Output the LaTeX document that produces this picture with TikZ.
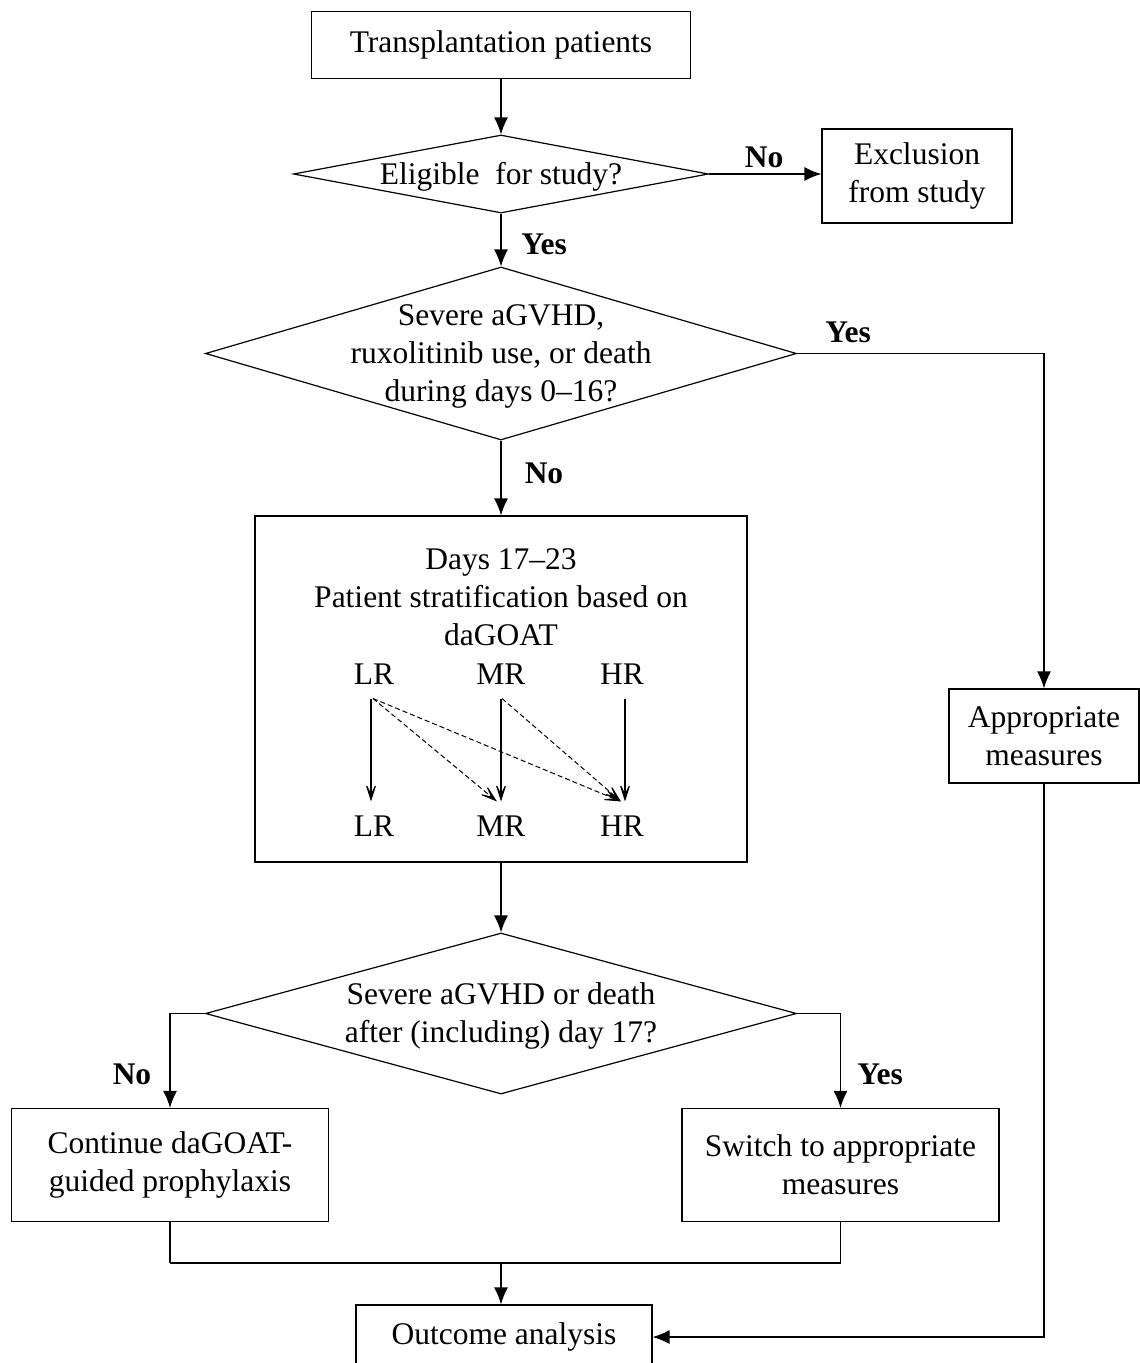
\documentclass[tikz,border=0pt]{standalone}
\usepackage{fontspec}
\setmainfont{Liberation Serif}
\usetikzlibrary{shapes.geometric,arrows.meta}
\begin{document}
\begin{tikzpicture}[x=1pt,y=-1pt,
  txt/.style={font=\fontsize{31.5}{38}\selectfont, align=center, inner sep=0pt},
  lbl/.style={font=\fontsize{31.5}{38}\selectfont\bfseries, inner sep=0pt},
  box/.style={draw, line width=1.2pt, inner sep=0pt, align=center, font=\fontsize{31.5}{38}\selectfont},
  dia/.style={draw, diamond, line width=1.2pt, inner sep=0pt},
  arr/.style={line width=1.3pt, -{Latex[length=17pt,width=14pt]}},
  ln/.style={line width=1.3pt},
  rk/.style={font=\fontsize{31.5}{38}\selectfont, inner sep=14pt},
  sarr/.style={line width=1.1pt, -{Stealth[length=22pt,width=14pt,inset=14pt]}},
  darr/.style={line width=1pt, dash pattern=on 5pt off 3pt, -{Stealth[length=22pt,width=14pt,inset=14pt]}}
]
\useasboundingbox (0,0) rectangle (1140,1363);

% boxes
\node[box, minimum width=379, minimum height=67] (tp) at (501,45) {Transplantation patients};
\node[dia, minimum width=415, minimum height=78] (d1) at (501,174) {};
\node[txt] (d1t) at (501,177) {Eligible\ \ for study?};
\node[box, minimum width=190, minimum height=94] (ex) at (917,176) {Exclusion\\from study};
\node[dia, minimum width=591, minimum height=173] (d2) at (501,353.5) {};
\node[txt] (d2t) at (501,356) {Severe aGVHD,\\ruxolitinib use, or death\\during days 0--16?};
\node[box, minimum width=190, minimum height=94] (ap) at (1044,736) {Appropriate\\measures};
\node[box, minimum width=492, minimum height=346] (st) at (501,689) {};
\node[txt] (stt) at (501,597) {Days 17--23\\Patient stratification\ based on\\daGOAT};
\node[rk] (lr1) at (374,674) {LR};
\node[rk] (mr1) at (501,674) {MR};
\node[rk] (hr1) at (622,674) {HR};
\node[rk] (lr2) at (374,826) {LR};
\node[rk] (mr2) at (501,826) {MR};
\node[rk] (hr2) at (622,826) {HR};
\node[dia, minimum width=591, minimum height=161] (d3) at (501,1013.5) {};
\node[txt] (d3t) at (501,1016) {Severe aGVHD or death\\after (including)\ day 17?};
\node[box, minimum width=317, minimum height=113] (co) at (170,1165) {Continue daGOAT-\\guided prophylaxis};
\node[box, minimum width=317, minimum height=113] (sw) at (840.5,1165) {Switch to appropriate\\measures};
\node[box, minimum width=296, minimum height=64] (oa) at (504,1337) {Outcome analysis};

% connectors
\draw[arr] (tp.south) -- (d1.north);
\draw[arr] (d1.east) -- (ex.west |- d1.east);
\draw[arr] (d1.south) -- (d2.north);
\draw[arr] (d2.east) -| (ap.north);
\draw[arr] (d2.south) -- (st.north);
\draw[arr] (st.south) -- (d3.north);
\draw[arr] (d3.west) -| (co.north);
\draw[arr] (d3.east) -| (sw.north);
\coordinate (mg) at (501,1263);
\draw[ln] (co.south) -- (co.south |- mg);
\draw[ln] (sw.south) -- (sw.south |- mg);
\draw[line width=2.4pt] (co.south |- mg) -- (sw.south |- mg);
\draw[arr] (mg) -- (mg |- oa.north);
\draw[arr] (ap.south) |- (oa.east);

% inner arrows
\draw[sarr] ([xshift=-3pt]lr1.south) -- ([xshift=-3pt]lr2.north);
\draw[sarr] (mr1.south) -- (mr2.north);
\draw[sarr] ([xshift=3pt]hr1.south) -- ([xshift=3pt]hr2.north);
\draw[darr] ([xshift=-1pt]lr1.south) -- ([xshift=-4pt]mr2.north);
\draw[darr] ([xshift=-1pt]lr1.south) -- ([xshift=-1pt]hr2.north);
\draw[darr] ([xshift=1pt]mr1.south) -- ([xshift=-1pt]hr2.north);

% labels
\node[lbl] (l1) at (764,157) {No};
\node[lbl] (l2) at (544,244) {Yes};
\node[lbl] (l3) at (848,332) {Yes};
\node[lbl] (l4) at (544,473) {No};
\node[lbl] (l5) at (132,1074) {No};
\node[lbl] (l6) at (880,1074) {Yes};
\end{tikzpicture}
\end{document}
